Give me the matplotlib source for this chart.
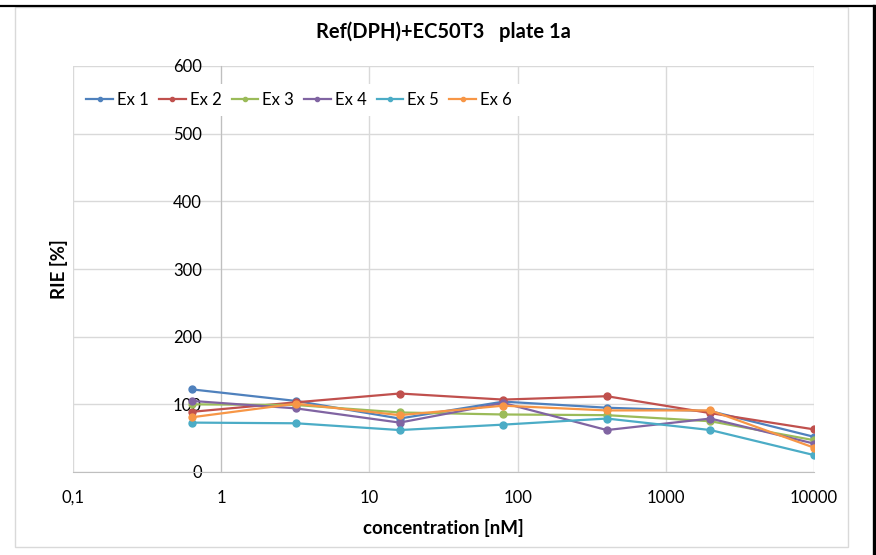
import matplotlib
matplotlib.use("Agg")
import matplotlib.pyplot as plt
from matplotlib.lines import Line2D
from matplotlib.patches import Rectangle

plt.rcParams.update({"font.family": ["Lato", "DejaVu Sans"]})

conc = [0.64, 3.2, 16, 80, 400, 2000, 10000]
series = ["Ex 1", "Ex 2", "Ex 3", "Ex 4", "Ex 5", "Ex 6"]
ex1 = [122, 105, 79, 104, 95, 90, 52]
ex2 = [89, 103, 116, 107, 112, 87, 63]
ex3 = [100, 99, 88, 85, 84, 75, 47]
ex4 = [105, 94, 73, 102, 62, 79, 42]
ex5 = [73, 72, 62, 70, 79, 62, 25]
ex6 = [81, 101, 84, 98, 91, 91, 36]
values = [ex1, ex2, ex3, ex4, ex5, ex6]
colors = ["#4F81BD", "#C0504D", "#9BBB59", "#8064A2", "#4BACC6", "#F79646"]

x_ticks = [0.1, 1, 10, 100, 1000, 10000]
x_labels = ["0,1", "1", "10", "100", "1000", "10000"]
y_ticks = [0, 100, 200, 300, 400, 500, 600]

GRID = "#D9D9D9"

fig = plt.figure(figsize=(8.76, 5.55), dpi=100)

# chart frame and the black edge around the sheet
fig.add_artist(Rectangle((15 / 876, 8 / 555), 833 / 876, 540 / 555,
               transform=fig.transFigure, facecolor="white",
               edgecolor=GRID, linewidth=1.0, zorder=0))
fig.add_artist(Line2D([0, 874 / 876], [1 - 6 / 555] * 2, transform=fig.transFigure,
               color="black", linewidth=1.6))
fig.add_artist(Line2D([874 / 876] * 2, [0, 1 - 6 / 555], transform=fig.transFigure,
               color="black", linewidth=2.4))

ax = fig.add_axes([73 / 876, 83 / 555, 741 / 876, 406 / 555])
ax.set_xscale("log")
ax.set_xlim(0.1, 10000)
ax.set_ylim(0, 600)

for name, ys, c in zip(series, values, colors):
    ax.plot(conc, ys, color=c, linewidth=1.6, marker="o", markersize=5,
            label=name, zorder=3)

ax.set_xticks(x_ticks)
ax.set_xticklabels(x_labels)
ax.minorticks_off()
ax.set_yticks(y_ticks)
ax.grid(True, color=GRID, linewidth=1.0)
ax.set_axisbelow(True)

for s in ("top", "right"):
    ax.spines[s].set_visible(False)
ax.spines["left"].set_position(("data", 1))
ax.spines["left"].set_color("#BFBFBF")
ax.spines["bottom"].set_color("#BFBFBF")
ax.tick_params(axis="both", length=0, labelsize=12, colors="black")
ax.tick_params(axis="y", pad=14)
ax.tick_params(axis="x", pad=13)

ax.set_title("Ref(DPH)+EC50T3   plate 1a", fontsize=14.5, fontweight="bold",
             pad=20)
ax.set_xlabel("concentration [nM]", fontsize=13.5, fontweight="bold", labelpad=9)
ax.set_ylabel("RIE [%]", fontsize=13.5, fontweight="bold", labelpad=0)
ax.yaxis.set_label_coords(-0.007, 0.5)

leg = ax.legend(loc="center left", bbox_to_anchor=(0.0, 0.916), ncol=6,
                frameon=True, fontsize=12, handlelength=1.6, handletextpad=0.25,
                columnspacing=0.6, markerscale=0.6, borderpad=0.3)
leg.get_frame().set_edgecolor("none")
leg.get_frame().set_facecolor("white")
leg.get_frame().set_alpha(1)
leg.get_frame().set_boxstyle("square", pad=0.2)

fig.savefig("out.png", dpi=100)
